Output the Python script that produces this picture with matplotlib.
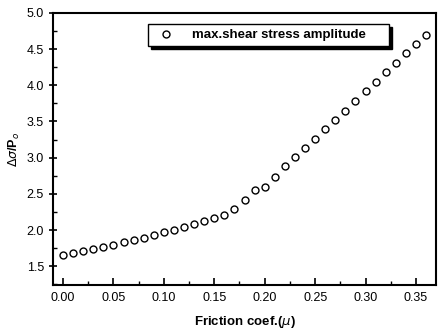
import matplotlib.pyplot as plt
import numpy as np
from matplotlib.ticker import MultipleLocator

# friction coefficient and normalised max. shear stress amplitude
mu = [0.00, 0.01, 0.02, 0.03, 0.04, 0.05, 0.06, 0.07, 0.08, 0.09,
      0.10, 0.11, 0.12, 0.13, 0.14, 0.15, 0.16, 0.17, 0.18, 0.19,
      0.20, 0.21, 0.22, 0.23, 0.24, 0.25, 0.26, 0.27, 0.28, 0.29,
      0.30, 0.31, 0.32, 0.33, 0.34, 0.35, 0.36]
stress = [1.65, 1.68, 1.71, 1.74, 1.77, 1.80, 1.83, 1.86, 1.89, 1.93,
          1.97, 2.00, 2.04, 2.08, 2.13, 2.17, 2.21, 2.29, 2.42, 2.55,
          2.60, 2.73, 2.88, 3.01, 3.13, 3.26, 3.39, 3.52, 3.65, 3.78,
          3.92, 4.05, 4.18, 4.31, 4.44, 4.57, 4.70]

plt.rcParams['font.family'] = ['Liberation Sans', 'DejaVu Sans']

fig = plt.figure(figsize=(4.41, 3.30), dpi=100)
ax = fig.add_axes([0.120, 0.136, 0.869, 0.825])

# trailing spaces widen the legend box on the right, like the original
ax.plot(mu, stress, 'o', mfc='white', mec='black', ms=5, mew=1.0,
        label='max.shear stress amplitude     ')

ax.set_xlim(-0.01, 0.37)
ax.set_ylim(1.24, 5.0)
ax.xaxis.set_major_locator(MultipleLocator(0.05))
ax.xaxis.set_minor_locator(MultipleLocator(0.025))
ax.yaxis.set_major_locator(MultipleLocator(0.5))
ax.yaxis.set_minor_locator(MultipleLocator(0.25))
ax.xaxis.set_major_formatter(plt.FormatStrFormatter('%.2f'))
ax.yaxis.set_major_formatter(plt.FormatStrFormatter('%.1f'))

ax.tick_params(axis='x', which='major', direction='in', length=5, width=1.2, labelsize=9, pad=5)
ax.tick_params(axis='x', which='minor', direction='in', length=3, width=1.0)
ax.tick_params(axis='y', which='major', direction='inout', length=6, width=1.2, labelsize=9)
ax.tick_params(axis='y', which='minor', direction='in', length=3, width=1.0)
for s in ax.spines.values():
    s.set_linewidth(1.5)

ax.set_xlabel(r'Friction coef.($\mu$)', fontsize=9.5, fontweight='bold', labelpad=7)
ax.set_ylabel(r'$\Delta\sigma$/P$_o$', fontsize=9, fontweight='bold', labelpad=3)

leg = ax.legend(loc='upper left', bbox_to_anchor=(0.248, 0.958), fancybox=False,
                shadow={'color': 'black', 'alpha': 1}, framealpha=1,
                edgecolor='black', prop={'weight': 'bold', 'size': 9.5},
                borderpad=0.35, handletextpad=1.0, borderaxespad=0)
leg.get_frame().set_linewidth(1.0)

fig.savefig('out.png', dpi=100)
